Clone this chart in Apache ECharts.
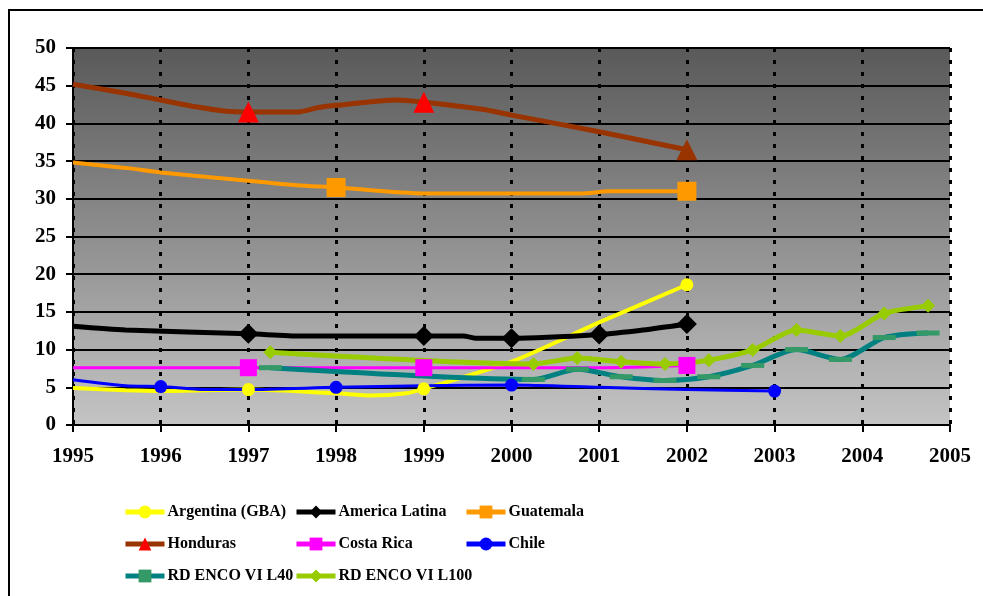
<!DOCTYPE html>
<html>
<head>
<meta charset="utf-8">
<script src="https://cdn.jsdelivr.net/npm/echarts@6/dist/echarts.min.js"></script>
<style>
  html, body { margin: 0; padding: 0; background: #ffffff; }
  #chart { width: 983px; height: 596px; }
</style>
</head>
<body>
<div id="chart"></div>
<script>
// Poverty rate series (percent) by year; fractional years are intermediate points of the curves.
const argentinaYears = [1995, 1995.6, 1996, 1997, 1998, 1998.4, 1998.8, 1999, 2000, 2001, 2002];
const argentinaValues = [4.9, 4.6, 4.5, 4.7, 4.2, 3.9, 4.2, 4.8, 8.4, 13.6, 18.6];
const argentinaMarked = [1997, 1999, 2002];

const latamYears = [1995, 1995.6, 1997, 1997.6, 1999, 1999.45, 1999.6, 2000, 2001, 2001.5, 2002];
const latamValues = [13.1, 12.6, 12.1, 11.8, 11.8, 11.8, 11.5, 11.5, 12.0, 12.6, 13.4];
const latamMarked = [1997, 1999, 2000, 2001, 2002];

const guatemalaYears = [1995, 1995.6, 1996, 1997, 1997.55, 1998, 1999, 2000, 2000.8, 2001.1, 2002];
const guatemalaValues = [34.8, 34.1, 33.5, 32.4, 31.8, 31.5, 30.7, 30.7, 30.7, 31.0, 31.0];
const guatemalaMarked = [1998, 2002];

const hondurasYears = [1995, 1995.6, 1996, 1996.4, 1996.75, 1997, 1997.55, 1997.8, 1998, 1998.7, 1999, 1999.65, 2000, 2001, 2002];
const hondurasValues = [45.2, 44.0, 43.1, 42.2, 41.6, 41.5, 41.5, 42.1, 42.4, 43.1, 42.8, 41.9, 41.1, 38.9, 36.5];
const hondurasMarked = [1997, 1999, 2002];

const costaRicaYears = [1995, 1997, 1999, 2001, 2002];
const costaRicaValues = [7.6, 7.6, 7.6, 7.6, 7.9];
const costaRicaMarked = [1997, 1999, 2002];

const chileYears = [1995, 1995.6, 1996, 1996.5, 1997, 1998, 1999, 2000, 2001, 2002, 2003];
const chileValues = [6.0, 5.2, 5.1, 4.7, 4.7, 5.0, 5.2, 5.3, 5.0, 4.7, 4.5];
const chileMarked = [1996, 1998, 2000, 2003];

const encoviYears = [1997.25, 2000.25, 2000.75, 2001.25, 2001.75, 2002.25, 2002.75, 2003.25, 2003.75, 2004.25, 2004.75];
const encoviL40Values = [7.6, 6.05, 7.4, 6.4, 5.9, 6.4, 7.9, 10.0, 8.7, 11.6, 12.2];
const encoviL100Values = [9.65, 8.1, 8.9, 8.4, 8.1, 8.6, 9.95, 12.6, 11.8, 14.8, 15.8];

const xTicks = { min: 1995, max: 2005, step: 1 };
const yTicks = { min: 0, max: 50, step: 5 };

const FONT = 'Liberation Serif';

function points(years, values, marked, extra) {
  return years.map(function (yr, i) {
    const item = { value: [yr, values[i]] };
    if (marked && marked.indexOf(yr) < 0) item.symbol = 'none';
    if (extra && extra[yr]) Object.assign(item, extra[yr]);
    return item;
  });
}

function lineSeries(name, data, lineColor, markColor, width, symbol, symbolSize) {
  return {
    name: name,
    type: 'line',
    data: data,
    smooth: 0.25,
    symbol: symbol,
    symbolSize: symbolSize,
    showAllSymbol: true,
    lineStyle: { color: lineColor, width: width },
    itemStyle: { color: markColor, borderWidth: 0 },
    emphasis: { disabled: true }
  };
}

const series = [
  lineSeries('Argentina (GBA)', points(argentinaYears, argentinaValues, argentinaMarked),
    '#FFFF00', '#FFFF00', 4, 'circle', 13),
  lineSeries('America Latina', points(latamYears, latamValues, latamMarked),
    '#000000', '#000000', 5, 'diamond', 20),
  lineSeries('Guatemala', points(guatemalaYears, guatemalaValues, guatemalaMarked),
    '#FF9900', '#FF9900', 4, 'rect', 19),
  lineSeries('Honduras', points(hondurasYears, hondurasValues, hondurasMarked,
    { 2002: { itemStyle: { color: '#993300' } } }),
    '#993300', '#FF0000', 5, 'triangle', 21),
  lineSeries('Costa Rica', points(costaRicaYears, costaRicaValues, costaRicaMarked),
    '#FF00FF', '#FF00FF', 3, 'rect', 17),
  lineSeries('Chile', points(chileYears, chileValues, chileMarked),
    '#0000FF', '#0000FF', 3, 'circle', 13),
  lineSeries('RD ENCO VI L40', points(encoviYears, encoviL40Values, null),
    '#008080', '#339966', 5, 'rect', [23, 5]),
  lineSeries('RD ENCO VI L100', points(encoviYears, encoviL100Values, null),
    '#99CC00', '#99CC00', 5, 'diamond', 14)
];

// Legend laid out as a 3-column grid
const legendCols = [123, 294, 464];
const legendRows = [504, 536, 568];
const legends = series.map(function (s, i) {
  return {
    data: [s.name],
    left: legendCols[i % 3],
    top: legendRows[Math.floor(i / 3)],
    padding: 0,
    itemWidth: 39,
    itemHeight: 16,
    itemGap: 0,
    selectedMode: false,
    lineStyle: { width: 5 },
    textStyle: { fontFamily: FONT, fontWeight: 'bold', fontSize: 16, color: '#000', padding: [0, 0, 0, -2] }
  };
});

const chart = echarts.init(document.getElementById('chart'), null, { renderer: 'canvas' });
chart.setOption({
  animation: false,
  backgroundColor: '#ffffff',
  textStyle: { fontFamily: FONT },
  graphic: [{
    type: 'rect',
    shape: { x: 9, y: 10, width: 1000, height: 620 },
    style: { fill: 'none', stroke: '#000', lineWidth: 2 },
    silent: true,
    z: -1
  }],
  grid: {
    left: 73, right: 33, top: 48, bottom: 171,
    show: true,
    borderWidth: 0,
    backgroundColor: new echarts.graphic.LinearGradient(0, 0, 0, 1, [
      { offset: 0, color: '#595959' },
      { offset: 1, color: '#c4c4c4' }
    ])
  },
  legend: legends,
  xAxis: {
    type: 'value',
    min: xTicks.min, max: xTicks.max, interval: xTicks.step,
    axisLine: { show: true, onZero: false, lineStyle: { color: '#000', width: 2 } },
    axisTick: { show: true, length: 7, lineStyle: { color: '#000', width: 2 } },
    axisLabel: {
      margin: 21, fontFamily: FONT, fontWeight: 'bold', fontSize: 21, color: '#000',
      formatter: function (v) { return String(v); }
    },
    splitLine: { show: true, lineStyle: { color: '#000', width: 3, type: [4, 8] } }
  },
  yAxis: {
    type: 'value',
    min: yTicks.min, max: yTicks.max, interval: yTicks.step,
    axisLine: { show: true, lineStyle: { color: '#000', width: 2 } },
    axisTick: { show: true, length: 7, lineStyle: { color: '#000', width: 2 } },
    axisLabel: { margin: 17, fontFamily: FONT, fontWeight: 'bold', fontSize: 21, color: '#000' },
    splitLine: { show: true, lineStyle: { color: '#000', width: 2 } }
  },
  series: series
});
</script>
</body>
</html>
